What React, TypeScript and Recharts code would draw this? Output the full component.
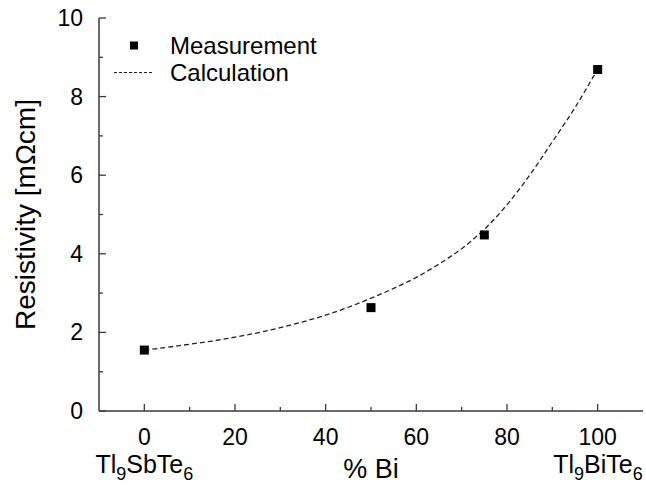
import React from "react";
import {
  ComposedChart,
  Line,
  Scatter,
  XAxis,
  YAxis,
  Legend,
} from "recharts";

// measured resistivity vs. Bi content
const measX = [0, 50, 75, 100];
const measY = [1.55, 2.63, 4.48, 8.69];

// calculated curve
const calcX = [0, 5, 10, 15, 20, 25, 30, 35, 40, 45, 50, 55, 60, 65, 70, 75, 80, 85, 90, 95, 100];
const calcY = [1.55, 1.62, 1.7, 1.78, 1.88, 1.99, 2.12, 2.27, 2.44, 2.64, 2.87, 3.12, 3.4, 3.74, 4.13, 4.62, 5.25, 6.0, 6.85, 7.72, 8.7];

const xTicks = [0, 10, 20, 30, 40, 50, 60, 70, 80, 90, 100];
const yTicks = [0, 1, 2, 3, 4, 5, 6, 7, 8, 9, 10];

// end-member compounds shown under 0 and 100 % Bi
const endX = [0, 100];
const endNames = [
  ["Tl", "9", "SbTe", "6"],
  ["Tl", "9", "BiTe", "6"],
];

const FONT = "'Liberation Sans', Arial, Helvetica, sans-serif";
const AXIS = "#3a3a3a";
const INK = "#000";

const measData = measX.map((x, i) => ({ x, y: measY[i] }));
const calcData = calcX.map((x, i) => ({ x, y: calcY[i] }));

function Formula({ x, y, parts, anchor }: { x: number; y: number; parts: string[]; anchor: string }) {
  return (
    <text x={x} y={y} textAnchor={anchor} fontFamily={FONT} fontSize={25} fill={INK}>
      <tspan>{parts[0]}</tspan>
      <tspan fontSize={18} dy={7}>{parts[1]}</tspan>
      <tspan dy={-7}>{parts[2]}</tspan>
      <tspan fontSize={18} dy={7}>{parts[3]}</tspan>
    </text>
  );
}

function BottomTick(props: any) {
  const { x, y, payload } = props;
  const v = payload.value;
  const major = v % 20 === 0;
  const idx = endX.indexOf(v);
  return (
    <g>
      <line x1={x} y1={y} x2={x} y2={y - (major ? 7 : 4)} stroke={AXIS} strokeWidth={1.3} />
      {major && (
        <text x={x} y={y + 34} textAnchor="middle" fontFamily={FONT} fontSize={23} fill={INK}>
          {v}
        </text>
      )}
      {idx >= 0 && (
        <Formula
          x={idx === 0 ? x : x + 45}
          y={y + 62}
          parts={endNames[idx]}
          anchor={idx === 0 ? "middle" : "end"}
        />
      )}
    </g>
  );
}

function TopTick(props: any) {
  const { x, y, payload } = props;
  const major = payload.value % 20 === 0;
  return <line x1={x} y1={y} x2={x} y2={y + (major ? 7 : 4)} stroke={AXIS} strokeWidth={1.3} />;
}

function LeftTick(props: any) {
  const { x, y, payload } = props;
  const v = payload.value;
  const major = v % 2 === 0;
  return (
    <g>
      <line x1={x} y1={y} x2={x + (major ? 7 : 4)} y2={y} stroke={AXIS} strokeWidth={1.3} />
      {major && (
        <text x={x - 16} y={y + 8} textAnchor="end" fontFamily={FONT} fontSize={23} fill={INK}>
          {v}
        </text>
      )}
    </g>
  );
}

function RightTick(props: any) {
  const { x, y, payload } = props;
  const major = payload.value % 2 === 0;
  return <line x1={x} y1={y} x2={x - (major ? 7 : 4)} y2={y} stroke={AXIS} strokeWidth={1.3} />;
}

function LegendBox() {
  const row: React.CSSProperties = { display: "flex", alignItems: "center", height: 27 };
  const txt: React.CSSProperties = { fontFamily: FONT, fontSize: 24, color: INK, lineHeight: "27px" };
  return (
    <div>
      <div style={row}>
        <svg width={60} height={27}>
          <rect x={20} y={9.5} width={8} height={8} fill={INK} />
        </svg>
        <span style={txt}>Measurement</span>
      </div>
      <div style={row}>
        <svg width={60} height={27}>
          <line x1={4} y1={13.5} x2={43} y2={13.5} stroke="#222" strokeWidth={1.2} strokeDasharray="3 2" />
        </svg>
        <span style={txt}>Calculation</span>
      </div>
    </div>
  );
}

export default function App() {
  return (
    <div style={{ position: "absolute", left: 0, top: 0, width: 646, height: 485, background: "#fff" }}>
      <ComposedChart
        width={646}
        height={485}
        data={calcData}
        margin={{ top: 18, right: 3, bottom: 0, left: 0 }}
      >
        <XAxis
          dataKey="x"
          type="number"
          domain={[-10, 110]}
          ticks={xTicks}
          interval={0}
          height={74}
          tickSize={0}
          tickMargin={0}
          tickLine={false}
          axisLine={{ stroke: AXIS, strokeWidth: 1.5 }}
          tick={<BottomTick />}
          allowDataOverflow
          label={{
            content: (p: any) => (
              <text
                x={p.viewBox.x + p.viewBox.width / 2}
                y={p.viewBox.y + 67}
                textAnchor="middle"
                fontFamily={FONT}
                fontSize={27}
                fill={INK}
              >
                % Bi
              </text>
            ),
          }}
        />
        <XAxis
          xAxisId="top"
          dataKey="x"
          type="number"
          orientation="top"
          domain={[-10, 110]}
          ticks={xTicks}
          interval={0}
          height={0}
          tickSize={0}
          tickMargin={0}
          tickLine={false}
          axisLine={{ stroke: AXIS, strokeWidth: 1.5 }}
          tick={<TopTick />}
          allowDataOverflow
        />
        <YAxis
          type="number"
          domain={[0, 10]}
          ticks={yTicks}
          interval={0}
          width={99}
          tickSize={0}
          tickMargin={0}
          tickLine={false}
          axisLine={{ stroke: AXIS, strokeWidth: 1.5 }}
          tick={<LeftTick />}
          label={{
            content: (p: any) => {
              const cx = p.viewBox.x + 35;
              const cy = p.viewBox.y + p.viewBox.height / 2;
              return (
                <text
                  x={cx}
                  y={cy}
                  transform={`rotate(-90, ${cx}, ${cy})`}
                  textAnchor="middle"
                  fontFamily={FONT}
                  fontSize={28}
                  fill={INK}
                >
                  Resistivity [mΩcm]
                </text>
              );
            },
          }}
        />
        <YAxis
          yAxisId="right"
          orientation="right"
          type="number"
          domain={[0, 10]}
          ticks={yTicks}
          interval={0}
          width={0}
          tickSize={0}
          tickMargin={0}
          tickLine={false}
          axisLine={{ stroke: AXIS, strokeWidth: 1.5 }}
          tick={<RightTick />}
        />
        <Legend
          layout="horizontal"
          verticalAlign="middle"
          align="center"
          content={<LegendBox />}
          wrapperStyle={{ top: 32, left: 110, width: "auto", height: "auto" }}
        />
        <Line
          dataKey="y"
          type="monotone"
          stroke="#222"
          strokeWidth={1.3}
          strokeDasharray="5 3"
          dot={false}
          activeDot={false}
          isAnimationActive={false}
          legendType="none"
        />
        <Scatter
          data={measData}
          dataKey="y"
          fill={INK}
          isAnimationActive={false}
          shape={(p: any) => <rect x={p.cx - 4.5} y={p.cy - 4.5} width={9} height={9} fill={INK} />}
        />
      </ComposedChart>
    </div>
  );
}
